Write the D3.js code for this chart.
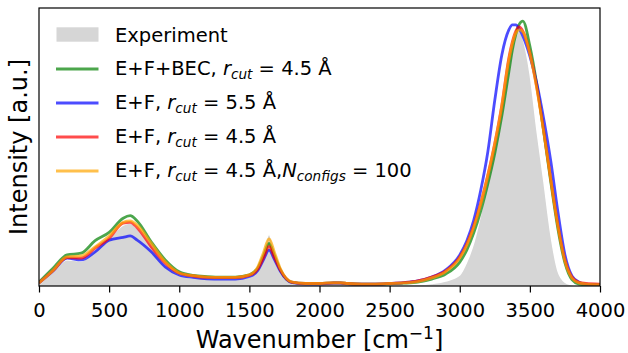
<!DOCTYPE html>
<html><head><meta charset="utf-8">
<script src="https://cdn.jsdelivr.net/npm/d3@7"></script>
<style>body{margin:0;background:#fff;} svg{display:block;font-family:"DejaVu Sans";}</style>
</head><body><svg id="c" width="628" height="353"></svg>
<script>
// ---- data ----
const wavenumber = [0,100,200,300,400,500,600,650,700,800,900,1000,1100,1200,1300,1400,1500,1560,1600,1640,1680,1720,1800,1900,2000,2100,2150,2200,2300,2400,2500,2600,2700,2800,2900,3000,3050,3100,3150,3200,3250,3300,3350,3375,3400,3425,3450,3500,3550,3600,3650,3700,3750,3800,3850,3900,4000];
const experiment = [0.005,0.051,0.094,0.090,0.129,0.172,0.219,0.226,0.208,0.147,0.076,0.040,0.031,0.027,0.025,0.025,0.032,0.065,0.126,0.185,0.126,0.058,0.011,0.004,0.004,0.019,0.018,0.011,0.005,0.004,0.004,0.004,0.005,0.009,0.018,0.040,0.086,0.155,0.259,0.381,0.514,0.647,0.806,0.871,0.910,0.921,0.892,0.766,0.561,0.374,0.183,0.054,0.014,0.004,0,0,0];
const efBec45 = [0.014,0.064,0.112,0.118,0.163,0.193,0.244,0.253,0.234,0.159,0.094,0.051,0.038,0.034,0.032,0.032,0.040,0.065,0.108,0.153,0.108,0.059,0.014,0.009,0.009,0.011,0.011,0.009,0.007,0.007,0.008,0.010,0.014,0.025,0.043,0.086,0.129,0.191,0.270,0.367,0.478,0.612,0.770,0.849,0.906,0.942,0.953,0.863,0.723,0.550,0.371,0.205,0.083,0.023,0.007,0.004,0.004];
const ef55 = [0.011,0.054,0.100,0.094,0.123,0.165,0.175,0.180,0.165,0.123,0.069,0.040,0.031,0.026,0.025,0.025,0.034,0.056,0.094,0.129,0.094,0.054,0.013,0.007,0.007,0.010,0.010,0.008,0.007,0.007,0.009,0.012,0.018,0.032,0.058,0.112,0.162,0.237,0.345,0.482,0.669,0.831,0.921,0.939,0.939,0.924,0.899,0.827,0.727,0.597,0.446,0.266,0.112,0.036,0.014,0.007,0.005];
const ef45 = [0.011,0.055,0.102,0.100,0.136,0.172,0.226,0.229,0.210,0.141,0.082,0.046,0.036,0.031,0.030,0.030,0.038,0.061,0.101,0.142,0.101,0.058,0.014,0.009,0.009,0.011,0.011,0.009,0.007,0.007,0.009,0.012,0.018,0.032,0.054,0.104,0.151,0.216,0.299,0.399,0.514,0.651,0.820,0.878,0.917,0.932,0.917,0.838,0.712,0.554,0.381,0.219,0.094,0.032,0.013,0.009,0.007];
const ef45n100 = [0.011,0.056,0.105,0.108,0.141,0.180,0.229,0.234,0.219,0.154,0.087,0.047,0.037,0.032,0.031,0.031,0.040,0.069,0.119,0.169,0.119,0.064,0.015,0.009,0.009,0.011,0.011,0.009,0.007,0.007,0.009,0.011,0.016,0.029,0.052,0.101,0.147,0.212,0.295,0.396,0.511,0.647,0.813,0.871,0.910,0.921,0.914,0.835,0.709,0.550,0.378,0.216,0.090,0.029,0.011,0.007,0.005];
const xTicks = [0,500,1000,1500,2000,2500,3000,3500,4000];
const seriesColors = ["#008000","#0000ff","#ff0000","#ffa500"];
const experimentLabel = "Experiment";
// label parts: [text, style] where style: "" normal, "i" italic, "s" italic subscript
const seriesLabels = [
  [["E+F+BEC, ",""],["r","i"],["cut","s"],[" = 4.5 Å",""]],
  [["E+F, ",""],["r","i"],["cut","s"],[" = 5.5 Å",""]],
  [["E+F, ",""],["r","i"],["cut","s"],[" = 4.5 Å",""]],
  [["E+F, ",""],["r","i"],["cut","s"],[" = 4.5 Å,",""],["N","i"],["configs","s"],[" = 100",""]]
];
const xLabel = "Wavenumber [cm";
const xLabelSup = "−1";
const yLabel = "Intensity [a.u.]";

const seriesValues = [efBec45, ef55, ef45, ef45n100];
const series = seriesValues.map((v,i)=>({values:v, color:seriesColors[i], label:seriesLabels[i]}));

// ---- chart ----
const svg = d3.select("#c");
const x = d3.scaleLinear().domain([0,4000]).range([39,600]);
const y = d3.scaleLinear().domain([0,1]).range([286,8]);

svg.append("defs").append("clipPath").attr("id","clip")
  .append("rect").attr("x",39).attr("y",8).attr("width",561).attr("height",278);
const g = svg.append("g").attr("clip-path","url(#clip)");

const area = d3.area().x((d,i)=>x(wavenumber[i])).y0(y(0)).y1(d=>y(d)).curve(d3.curveMonotoneX);
const line = d3.line().x((d,i)=>x(wavenumber[i])).y(d=>y(d)).curve(d3.curveMonotoneX);

g.append("path").datum(experiment).attr("d",area).attr("fill","#d6d6d6");
g.append("path").datum(experiment).attr("d",line).attr("fill","none").attr("stroke","#fff").attr("stroke-width",1.4);

series.forEach(s=>{
  g.append("path").datum(s.values).attr("d",line).attr("fill","none")
   .attr("stroke",s.color).attr("stroke-opacity",0.7).attr("stroke-width",2.8)
   .attr("stroke-linejoin","round");
});

// frame
svg.append("rect").attr("x",39).attr("y",8).attr("width",561).attr("height",278)
  .attr("fill","none").attr("stroke","#000").attr("stroke-width",1.2);

// x axis
const xAxis = d3.axisBottom(x).tickValues(xTicks).tickSize(6.5).tickPadding(11).tickFormat(d3.format("d"));
const ax = svg.append("g").attr("transform","translate(0,286)").call(xAxis);
ax.select(".domain").remove();
ax.selectAll(".tick line").attr("stroke","#000").attr("stroke-width",1.2);
ax.selectAll(".tick text").attr("font-family","DejaVu Sans").attr("font-size",19.5).attr("fill","#000");

// axis labels
const xl = svg.append("text").attr("x",319.5).attr("y",348).attr("text-anchor","middle")
  .attr("font-size",24).attr("fill","#000");
xl.append("tspan").text(xLabel);
xl.append("tspan").attr("dy",-9).attr("font-size",17).text(xLabelSup);
xl.append("tspan").attr("dy",9).text("]");

svg.append("text").attr("transform","translate(26.5,147) rotate(-90)").attr("text-anchor","middle")
  .attr("font-size",24).attr("fill","#000").text(yLabel);

// legend
const lg = svg.append("g");
const rowBase = [41.5,74.5,108.5,142.5,176.5];
lg.append("rect").attr("x",56.5).attr("y",rowBase[0]-14.2).attr("width",42).attr("height",14.4).attr("fill","#d6d6d6");
lg.append("text").attr("x",115).attr("y",rowBase[0]).attr("font-size",19.5).attr("fill","#000").text(experimentLabel);
series.forEach((s,i)=>{
  const b = rowBase[i+1];
  lg.append("line").attr("x1",56).attr("x2",98.5).attr("y1",b-5.5).attr("y2",b-5.5)
    .attr("stroke",s.color).attr("stroke-opacity",0.7).attr("stroke-width",2.8);
  const t = lg.append("text").attr("x",115).attr("y",b).attr("font-size",19.5).attr("fill","#000");
  let shifted = false;
  s.label.forEach(([txt,st])=>{
    const sp = t.append("tspan").text(txt).attr("xml:space","preserve");
    if (st==="i") { sp.attr("font-style","italic"); if (shifted){sp.attr("dy",-4.5); shifted=false;} }
    else if (st==="s") { sp.attr("font-style","italic").attr("font-size",13.6).attr("dy",4.5); shifted=true; }
    else { if (shifted){sp.attr("dy",-4.5); shifted=false;} }
  });
});
</script></body></html>
